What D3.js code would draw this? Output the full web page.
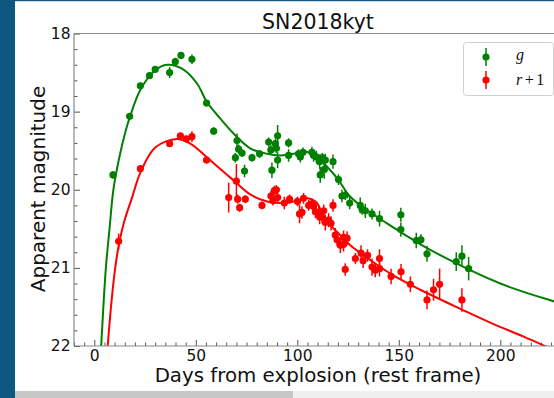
<!DOCTYPE html>
<html>
<head>
<meta charset="utf-8">
<script src="https://cdn.jsdelivr.net/npm/d3@7"></script>
<style>
  html, body { margin: 0; padding: 0; overflow: hidden; background: #fff; }
  svg { display: block; }
</style>
</head>
<body>
<svg id="chart" width="554" height="398"></svg>
<script>
// Light curve of SN2018kyt: g band and r band shifted by +1 mag

// g-band photometry: day, magnitude, error
const gDays = [9.2, 17.4, 22.7, 27.2, 30.0, 37.1, 39.9, 42.7, 48.1, 55.3, 58.8, 69.5, 70.3, 71.1, 72.8, 74.0,
  77.7, 81.4, 85.9, 87.0, 87.5, 89.2, 90.3, 90.3, 89.7, 95.7, 95.7, 100.6, 101.5, 102.8, 107.2, 108.0, 109.4,
  111.0, 112.3, 113.8, 111.3, 113.3, 117.6, 120.3, 122.0, 123.6, 125.8, 131.0, 131.9, 133.5, 136.8, 140.5,
  151.0, 151.0, 158.6, 160.9, 163.9, 178.3, 181.1, 184.4];
const gMags = [19.81, 19.06, 18.67, 18.54, 18.46, 18.50, 18.36, 18.28, 18.33, 18.89, 19.25, 19.59, 19.37, 19.48,
  19.53, 19.76, 19.59, 19.54, 19.39, 19.49, 19.75, 19.41, 19.31, 19.62, 19.47, 19.40, 19.56, 19.54, 19.58, 19.52,
  19.52, 19.56, 19.58, 19.64, 19.59, 19.62, 19.81, 19.74, 19.64, 19.87, 20.08, 20.07, 20.17, 20.20, 20.25, 20.27,
  20.31, 20.37, 20.32, 20.51, 20.65, 20.64, 20.82, 20.92, 20.85, 21.01];
const gErrs = [0.05, 0.04, 0.04, 0.04, 0.04, 0.07, 0.05, 0.04, 0.06, 0.04, 0.05, 0.06, 0.09, 0.06, 0.05, 0.08,
  0.05, 0.05, 0.06, 0.06, 0.10, 0.06, 0.14, 0.10, 0.06, 0.06, 0.08, 0.06, 0.07, 0.06, 0.07, 0.08, 0.08, 0.09,
  0.06, 0.08, 0.10, 0.12, 0.09, 0.07, 0.08, 0.06, 0.08, 0.10, 0.07, 0.09, 0.07, 0.10, 0.09, 0.09, 0.10, 0.07,
  0.10, 0.12, 0.14, 0.15];

// r-band photometry (already shifted by +1 mag)
const rDays = [12.0, 22.7, 37.1, 42.4, 45.3, 48.1, 55.3, 66.2, 70.0, 70.6, 71.6, 74.4, 82.6, 87.0, 88.7, 89.7,
  88.0, 90.3, 93.6, 96.2, 100.1, 101.1, 102.3, 103.1, 105.6, 107.2, 108.0, 108.9, 110.5, 111.0, 112.2, 113.0,
  113.8, 115.4, 116.6, 117.6, 118.7, 119.6, 121.2, 122.8, 122.8, 124.5, 123.6, 128.6, 131.4, 132.4, 134.6, 136.8,
  138.4, 140.5, 140.5, 146.2, 151.1, 155.7, 163.9, 167.1, 170.1, 181.1];
const rMags = [20.66, 19.73, 19.41, 19.31, 19.35, 19.32, 19.62, 20.10, 19.89, 20.12, 20.23, 20.12, 20.20, 20.08,
  20.01, 20.00, 20.14, 20.10, 20.17, 20.12, 20.15, 20.31, 20.29, 20.11, 20.20, 20.18, 20.21, 20.28, 20.30, 20.35,
  20.35, 20.27, 20.42, 20.39, 20.43, 20.20, 20.58, 20.64, 20.71, 20.70, 20.61, 20.62, 21.02, 20.88, 20.81, 20.91,
  20.84, 20.99, 21.03, 20.88, 21.01, 21.11, 21.05, 21.21, 21.41, 21.28, 21.21, 21.41];
const rErrs = [0.10, 0.04, 0.04, 0.04, 0.04, 0.07, 0.04, 0.19, 0.22, 0.06, 0.05, 0.05, 0.05, 0.06, 0.06, 0.06,
  0.06, 0.06, 0.08, 0.06, 0.06, 0.12, 0.08, 0.07, 0.07, 0.07, 0.08, 0.08, 0.09, 0.09, 0.08, 0.08, 0.10, 0.09,
  0.09, 0.08, 0.09, 0.08, 0.10, 0.09, 0.09, 0.09, 0.08, 0.07, 0.10, 0.09, 0.08, 0.11, 0.09, 0.12, 0.10, 0.10,
  0.10, 0.10, 0.12, 0.14, 0.20, 0.15];

// Model curves (day, magnitude)
const gModelDays = [3.4, 5.7, 7.5, 9.4, 12.2, 15.3, 17.4, 22.7, 30.0, 35.8, 43.2, 50.6, 55.3, 62.1, 68.6, 76.8,
  85.1, 91.6, 98.2, 103.1, 108.9, 113.0, 119.6, 126.1, 134.3, 144.2, 155.7, 165.5, 200.0, 226.6, 232.0];
const gModelMags = [22.0, 21.0, 20.5, 20.0, 19.6, 19.26, 19.08, 18.72, 18.47, 18.40, 18.45, 18.64, 18.87, 19.09,
  19.28, 19.47, 19.54, 19.56, 19.54, 19.51, 19.56, 19.66, 19.85, 20.09, 20.26, 20.43, 20.62, 20.77, 21.20, 21.43, 21.47];
const rModelDays = [6.6, 8.4, 10.3, 12.0, 14.6, 18.6, 22.7, 30.0, 40.7, 47.3, 55.3, 58.8, 68.6, 76.8, 85.1, 93.3,
  101.5, 104.8, 109.7, 113.0, 119.6, 126.1, 136.0, 147.5, 160.6, 180.8, 195.0, 211.5, 222.0, 228.0];
const rModelMags = [22.0, 21.45, 21.0, 20.72, 20.42, 20.10, 19.78, 19.46, 19.35, 19.41, 19.58, 19.66, 19.88, 20.06,
  20.15, 20.17, 20.13, 20.11, 20.17, 20.36, 20.54, 20.71, 20.90, 21.10, 21.28, 21.53, 21.70, 21.88, 22.0, 22.07];

const xMajorTicks = [0, 50, 100, 150, 200];
const yMajorTicks = [18, 19, 20, 21, 22];
const titleText = "SN2018kyt";
const xLabel = "Days from explosion (rest frame)";
const yLabel = "Apparent magnitude";

const GREEN = "#008000", RED = "#ff0000";
const FONT = "'DejaVu Sans', sans-serif";

const svg = d3.select("#chart");

// page frame: blue side strip and horizontal scrollbar
svg.append("rect").attr("x", 0).attr("y", 0).attr("width", 554).attr("height", 398).attr("fill", "#fff");
svg.append("rect").attr("x", 0).attr("y", 0).attr("width", 15).attr("height", 398).attr("fill", "#0e5781");
svg.append("rect").attr("x", 0).attr("y", 0).attr("width", 554).attr("height", 1.2).attr("fill", "#0e5781");
svg.append("rect").attr("x", 15).attr("y", 391).attr("width", 539).attr("height", 7).attr("fill", "#efefef");
svg.append("rect").attr("x", 15).attr("y", 391).attr("width", 278).attr("height", 7).attr("fill", "#c6c6c6");

// plot area
const plotLeft = 74, plotTop = 33.5, plotBottom = 346;
const pxPerDay = 2.03;
const x = d3.scaleLinear().domain([-10, 230]).range([plotLeft, plotLeft + 240 * pxPerDay]);
const y = d3.scaleLinear().domain([18, 22]).range([plotTop, plotBottom]);
const plotRight = x(230);

svg.append("defs").append("clipPath").attr("id", "plotclip")
  .append("rect").attr("x", plotLeft).attr("y", plotTop).attr("width", plotRight - plotLeft).attr("height", plotBottom - plotTop);

const plot = svg.append("g").attr("clip-path", "url(#plotclip)");

// model curves
const line = d3.line().x(d => x(d[0])).y(d => y(d[1])).curve(d3.curveCatmullRom.alpha(0.5));
const gModel = gModelDays.map((d, i) => [d, gModelMags[i]]);
const rModel = rModelDays.map((d, i) => [d, rModelMags[i]]);

function drawSeries(days, mags, errs, color) {
  const pts = days.map((d, i) => ({ d, m: mags[i], e: errs[i] }));
  const g = plot.append("g");
  g.selectAll("line").data(pts).join("line")
    .attr("x1", p => x(p.d)).attr("x2", p => x(p.d))
    .attr("y1", p => y(p.m - p.e)).attr("y2", p => y(p.m + p.e))
    .attr("stroke", color).attr("stroke-width", 1.5);
  g.selectAll("circle").data(pts).join("circle")
    .attr("cx", p => x(p.d)).attr("cy", p => y(p.m)).attr("r", 3.6)
    .attr("fill", color);
}

drawSeries(gDays, gMags, gErrs, GREEN);
drawSeries(rDays, rMags, rErrs, RED);

plot.append("path").attr("d", line(gModel)).attr("fill", "none").attr("stroke", GREEN).attr("stroke-width", 2);
plot.append("path").attr("d", line(rModel)).attr("fill", "none").attr("stroke", RED).attr("stroke-width", 2);

// axes with inward ticks
const spine = "#8a8a8a";
const xMinor = d3.range(-10, 231, 5).filter(v => v % 50 !== 0);
const yMinor = d3.range(18, 22.001, 0.2).filter(v => Math.abs(v - Math.round(v)) > 1e-6);

const xAxis = d3.axisBottom(x).tickValues(xMajorTicks).tickSize(-6).tickPadding(3.5).tickFormat(d3.format("d"));
const xAxisMinor = d3.axisBottom(x).tickValues(xMinor).tickSize(-3.5).tickFormat("");
const yAxis = d3.axisLeft(y).tickValues(yMajorTicks).tickSize(-6).tickPadding(3.5).tickFormat(d3.format("d"));
const yAxisMinor = d3.axisLeft(y).tickValues(yMinor).tickSize(-3.5).tickFormat("");

function styleAxis(g) {
  g.select(".domain").remove();
  g.selectAll(".tick line").attr("stroke", "#555").attr("stroke-width", 1);
  g.selectAll(".tick text").attr("font-family", FONT).attr("font-size", 15.5).attr("fill", "#111");
}

svg.append("g").attr("transform", `translate(0,${plotBottom})`).call(xAxisMinor).call(styleAxis);
svg.append("g").attr("transform", `translate(0,${plotBottom})`).call(xAxis).call(styleAxis);
svg.append("g").attr("transform", `translate(${plotLeft},0)`).call(yAxisMinor).call(styleAxis);
svg.append("g").attr("transform", `translate(${plotLeft},0)`).call(yAxis).call(styleAxis);

// spines
svg.append("line").attr("x1", plotLeft).attr("x2", plotLeft).attr("y1", plotTop).attr("y2", plotBottom).attr("stroke", spine).attr("stroke-width", 1.2);
svg.append("line").attr("x1", plotLeft).attr("x2", 554).attr("y1", plotBottom).attr("y2", plotBottom).attr("stroke", spine).attr("stroke-width", 1.2);
svg.append("line").attr("x1", plotLeft).attr("x2", 554).attr("y1", plotTop).attr("y2", plotTop).attr("stroke", spine).attr("stroke-width", 1.2);

// title and axis labels
svg.append("text").attr("x", 318).attr("y", 29).attr("text-anchor", "middle")
  .attr("font-family", FONT).attr("font-size", 20.5).attr("fill", "#111").text(titleText);
svg.append("text").attr("x", 318).attr("y", 382).attr("text-anchor", "middle")
  .attr("font-family", FONT).attr("font-size", 19.8).attr("fill", "#111").text(xLabel);
svg.append("text").attr("transform", "translate(45,189) rotate(-90)").attr("text-anchor", "middle")
  .attr("font-family", FONT).attr("font-size", 20).attr("fill", "#111").text(yLabel);

// legend
const leg = svg.append("g");
leg.append("rect").attr("x", 463.5).attr("y", 42.5).attr("width", 90).attr("height", 53).attr("rx", 3)
  .attr("fill", "#fff").attr("fill-opacity", 0.8).attr("stroke", "#d0d0d0");
const legendItems = [{ color: GREEN, cy: 57 }, { color: RED, cy: 80 }];
legendItems.forEach(it => {
  leg.append("line").attr("x1", 486).attr("x2", 486).attr("y1", it.cy - 9).attr("y2", it.cy + 9)
    .attr("stroke", it.color).attr("stroke-width", 1.5);
  leg.append("circle").attr("cx", 486).attr("cy", it.cy).attr("r", 3.6).attr("fill", it.color);
});
const serif = "'Liberation Serif', 'DejaVu Serif', serif";
leg.append("text").attr("x", 516).attr("y", 60).attr("font-family", serif).attr("font-size", 16)
  .attr("font-style", "italic").attr("fill", "#111").text("g");
const rt = leg.append("text").attr("x", 516).attr("y", 85).attr("font-family", serif).attr("font-size", 16).attr("fill", "#111");
rt.append("tspan").attr("font-style", "italic").text("r");
rt.append("tspan").attr("dx", 2.5).text("+");
rt.append("tspan").attr("dx", 2.5).text("1");
</script>
</body>
</html>
